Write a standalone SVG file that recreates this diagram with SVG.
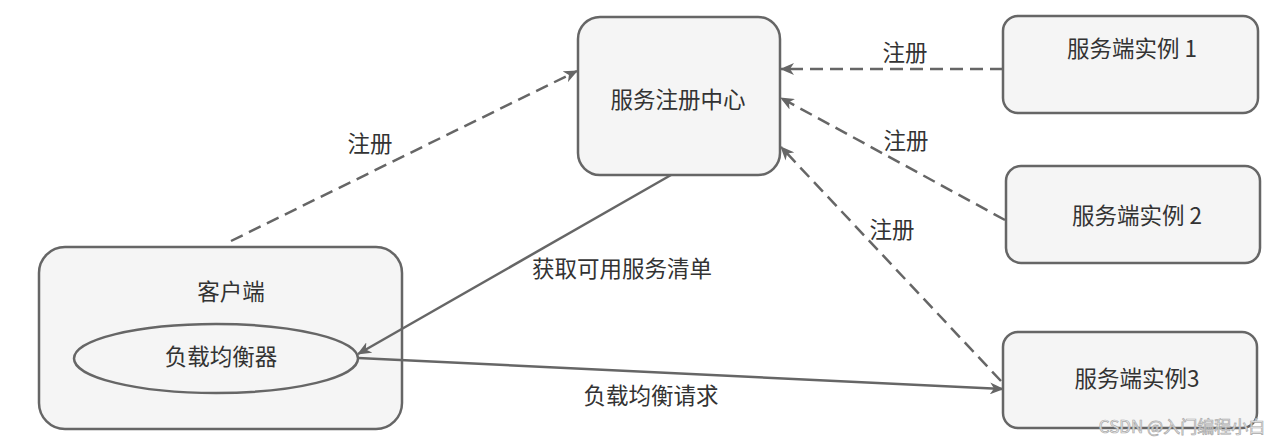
<svg xmlns="http://www.w3.org/2000/svg" width="1280" height="445" viewBox="0 0 1280 445">
<defs>
<style>
.node{fill:#f5f5f5;stroke:#666;stroke-width:2.5}
.lbl{font-family:"Noto Sans CJK SC","Noto Sans",sans-serif;font-size:22.5px;fill:#333;text-anchor:middle}
.edge{fill:none;stroke:#666;stroke-width:2.5}
.dash{stroke-dasharray:13 7}
.wm{font-family:"Noto Sans CJK SC","Noto Sans",sans-serif;font-size:17px;fill:#eee;stroke:#aaa;stroke-width:0.7;text-anchor:middle}
</style>
<marker id="arr" viewBox="0 0 14 12" refX="13" refY="6" markerWidth="14" markerHeight="12" markerUnits="userSpaceOnUse" orient="auto">
<path d="M0,0 L14,6 L0,12 L4,6 z" fill="#666"/>
</marker>
</defs>
<rect width="1280" height="445" fill="#fff"/>
<g id="registry">
<rect class="node" x="578" y="17" width="202" height="158" rx="22"/>
<text class="lbl" x="678" y="108">服务注册中心</text>
</g>
<g id="instance1">
<rect class="node" x="1003" y="16" width="255" height="97" rx="15"/>
<text class="lbl" x="1132" y="57">服务端实例 1</text>
</g>
<g id="instance2">
<rect class="node" x="1006" y="166" width="254" height="97" rx="15"/>
<text class="lbl" x="1137" y="224">服务端实例 2</text>
</g>
<g id="instance3">
<rect class="node" x="1003" y="332" width="254" height="96" rx="15"/>
<text class="lbl" x="1137" y="387">服务端实例3</text>
</g>
<g id="client">
<rect class="node" x="39" y="247" width="363" height="182" rx="26"/>
<text class="lbl" x="231" y="300">客户端</text>
</g>
<g id="balancer">
<ellipse class="node" cx="216" cy="358.5" rx="142" ry="34.5"/>
<text class="lbl" x="221" y="365">负载均衡器</text>
</g>
<g id="connectors">
<line class="edge dash" x1="231" y1="241" x2="577" y2="71" marker-end="url(#arr)"/>
<line class="edge dash" x1="1003" y1="69" x2="781" y2="69" marker-end="url(#arr)"/>
<line class="edge dash" x1="1005" y1="220" x2="781" y2="98" marker-end="url(#arr)"/>
<line class="edge dash" x1="1001" y1="381" x2="781" y2="147" marker-end="url(#arr)"/>
<line class="edge" x1="671" y1="175" x2="358" y2="354" marker-end="url(#arr)"/>
<line class="edge" x1="358" y1="358" x2="1003" y2="389" marker-end="url(#arr)"/>
<text class="lbl" x="370" y="152">注册</text>
<text class="lbl" x="905" y="61">注册</text>
<text class="lbl" x="906" y="149">注册</text>
<text class="lbl" x="892" y="238">注册</text>
<text class="lbl" x="622" y="277">获取可用服务清单</text>
<text class="lbl" x="651" y="404">负载均衡请求</text>
</g>
<text class="wm" x="1182" y="433">CSDN @入门编程小白</text>
</svg>
